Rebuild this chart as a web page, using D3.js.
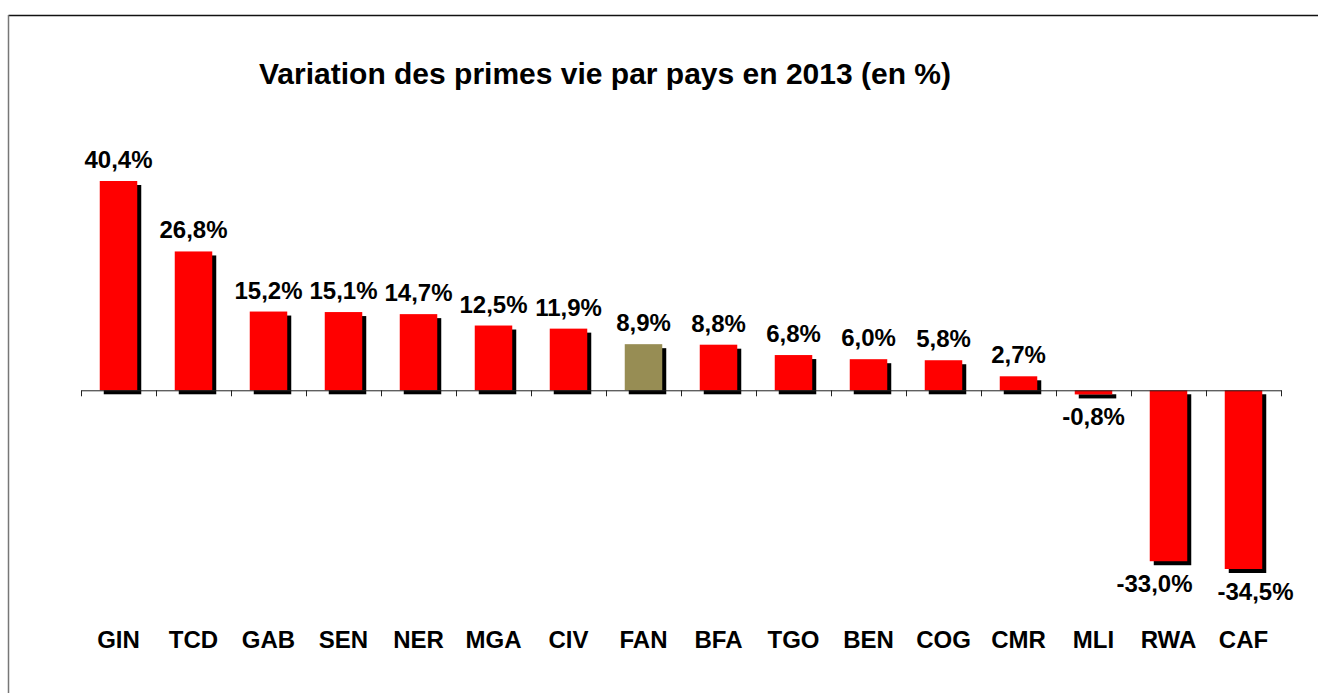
<!doctype html>
<html lang="fr">

<head>
  <title>Variation des primes vie par pays en 2013</title>
  <meta charset="utf-8" />
  <script src="https://d3js.org/d3.v7.min.js"></script>
  <style>
    body { margin: 0; background: #fff; }
    svg text { font-family: "Liberation Sans", Arial, sans-serif; font-weight: bold; fill: #000; }
  </style>
</head>

<body>
  <figure id="bar-chart" style="margin:0"></figure>

  <script>
    // country codes, left to right
    const countries = ["GIN", "TCD", "GAB", "SEN", "NER", "MGA", "CIV", "FAN",
      "BFA", "TGO", "BEN", "COG", "CMR", "MLI", "RWA", "CAF"];
    // variation of life premiums in 2013 (%)
    const variations = [40.4, 26.8, 15.2, 15.1, 14.7, 12.5, 11.9, 8.9,
      8.8, 6.8, 6.0, 5.8, 2.7, -0.8, -33.0, -34.5];
    // FAN is the market total, drawn in another colour
    const highlighted = ["FAN"];

    const title = "Variation des primes vie par pays en 2013 (en %)";

    const params = {
      width: 1318,
      height: 693,
      left: 81,
      right: 1281,
      top: 181,
      bottom: 569,
      barColor: "#ff0000",
      fanColor: "#978d54"
    };

    // Excel nudged the two bottom labels apart
    const labelShift = { RWA: -14, CAF: 12 };

    const fmt = v => v.toFixed(1).replace(".", ",") + "%";

    const svg = d3.select("#bar-chart").append("svg")
      .attr("width", params.width)
      .attr("height", params.height);

    const defs = svg.append("defs");
    defs.append("filter").attr("id", "soft")
      .append("feGaussianBlur").attr("stdDeviation", 0.7);

    // chart frame (only top and left edges are visible)
    svg.append("line")
      .attr("x1", 8.5).attr("x2", params.width).attr("y1", 15.5).attr("y2", 15.5)
      .attr("stroke", "#111").attr("stroke-width", 1.5);
    svg.append("line")
      .attr("x1", 8.5).attr("x2", 8.5).attr("y1", 15).attr("y2", params.height)
      .attr("stroke", "#777").attr("stroke-width", 1.5);

    svg.append("text")
      .attr("x", 605)
      .attr("y", 84)
      .attr("text-anchor", "middle")
      .style("font-size", "30px")
      .text(title);

    const xScale = d3.scaleBand()
      .domain(countries)
      .range([params.left, params.right])
      .paddingInner(0)
      .paddingOuter(0);

    const yScale = d3.scaleLinear()
      .domain([d3.min(variations), d3.max(variations)])
      .range([params.bottom, params.top]);

    const data = countries.map((c, i) => ({ country: c, value: variations[i] }));
    const barW = xScale.bandwidth() * 0.5;
    const zero = yScale(0);

    const bars = svg.selectAll("g.bar")
      .data(data)
      .enter()
      .append("g")
      .attr("class", "bar")
      .attr("transform", d => "translate(" + (xScale(d.country) + (xScale.bandwidth() - barW) / 2) + ",0)");

    // drop shadow
    bars.append("rect")
      .attr("x", 4)
      .attr("y", d => Math.min(yScale(d.value), zero) + 4)
      .attr("width", barW)
      .attr("height", d => Math.abs(yScale(d.value) - zero))
      .attr("fill", "#000")
      .attr("filter", "url(#soft)");

    bars.append("rect")
      .attr("x", 0)
      .attr("y", d => Math.min(yScale(d.value), zero))
      .attr("width", barW)
      .attr("height", d => Math.abs(yScale(d.value) - zero))
      .attr("fill", d => highlighted.includes(d.country) ? params.fanColor : params.barColor);

    // axis at zero, ticks between categories
    const axis = d3.axisBottom(d3.scaleLinear().domain([0, countries.length]).range([params.left, params.right]))
      .ticks(countries.length)
      .tickSizeInner(6)
      .tickSizeOuter(0)
      .tickFormat("");
    svg.append("g")
      .attr("transform", "translate(0," + zero + ")")
      .call(axis)
      .call(g => g.selectAll("line, path").attr("stroke", "#222"));

    // value labels
    bars.append("text")
      .attr("x", d => barW / 2 + (labelShift[d.country] || 0))
      .attr("y", d => d.value >= 0 ? yScale(d.value) - 13 : yScale(d.value) + 31)
      .attr("text-anchor", "middle")
      .style("font-size", "24px")
      .text(d => fmt(d.value));

    // category labels
    svg.selectAll("text.cat")
      .data(countries)
      .enter()
      .append("text")
      .attr("class", "cat")
      .attr("x", d => xScale(d) + xScale.bandwidth() / 2)
      .attr("y", 648)
      .attr("text-anchor", "middle")
      .style("font-size", "24px")
      .text(d => d);
  </script>

</body></html>
